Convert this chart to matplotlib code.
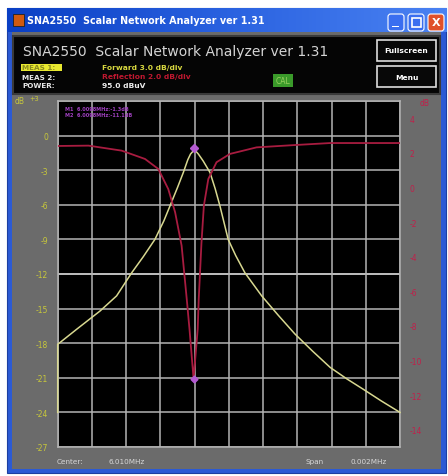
import matplotlib
matplotlib.use("Agg")
import matplotlib.pyplot as plt
from matplotlib.patches import Rectangle, FancyBboxPatch
import numpy as np

# ---------------- data ----------------
center_mhz = 6.010
span_mhz = 0.002
# forward (transmission) trace, frequency offset in divisions -> dB (left axis, 3 dB/div)
fwd_div = [0.0, 0.0, 0.55, 1.24, 1.72, 2.16, 2.50, 2.84, 3.10, 3.28, 3.50, 3.67, 3.80, 3.88,
           3.97, 4.05, 4.11, 4.25, 4.45, 4.60, 4.74, 4.98, 5.20, 5.47, 5.96, 6.45, 6.93,
           7.45, 7.96, 8.45, 8.93, 9.45, 10.0]
fwd_db = [-24.0, -18.1, -16.8, -15.2, -13.9, -11.9, -10.5, -9.0, -7.4, -6.1, -4.5, -3.2,
          -2.1, -1.6, -1.3, -1.4, -1.6, -2.2, -3.2, -4.6, -6.1, -9.0, -10.4, -11.9, -13.9,
          -15.6, -17.2, -18.7, -20.1, -21.1, -22.0, -23.0, -24.0]
# reflection trace (right axis, 2 dB/div)
ref_div = [0.0, 0.90, 1.87, 2.55, 2.94, 3.23, 3.43, 3.62, 3.77, 3.85, 3.97, 4.09, 4.12, 4.20,
           4.27, 4.40, 4.64, 5.03, 5.81, 6.98, 7.96, 10.0]
ref_db = [2.40, 2.42, 2.13, 1.65, 1.07, -0.09, -1.43, -3.36, -6.45, -8.18, -11.07, -8.18,
          -6.45, -3.2, -1.05, 0.49, 1.46, 1.94, 2.32, 2.46, 2.57, 2.57]
left_ticks = [0, -3, -6, -9, -12, -15, -18, -21, -24, -27]
left_labels = ["0", "-3", "-6", "-9", "-12", "-15", "-18", "-21", "-24", "-27"]
right_ticks = [4, 2, 0, -2, -4, -6, -8, -10, -12, -14]
right_labels = ["4", "2", "0", "-2", "-4", "-6", "-8", "-10", "-12", "-14"]
marker_div = 3.97
marker_fwd_db = -1.05
marker_ref_db = -11.07

W, H = 448, 477
fig = plt.figure(figsize=(W / 100, H / 100), dpi=100)
fig.patch.set_facecolor("white")

def rect(x0, y0, x1, y1, z=-5, **kw):
    r = Rectangle((x0 / W, 1 - y1 / H), (x1 - x0) / W, (y1 - y0) / H,
                  transform=fig.transFigure, zorder=z, **kw)
    fig.add_artist(r)
    return r

def txt(x, y, s, **kw):
    return fig.text(x / W, 1 - y / H, s, **kw)

# window frame
rect(7, 9, 446, 474, z=-10, facecolor="#2b5ad4", edgecolor="#1c3fa0", lw=0.8)
# title bar gradient
grad = np.linspace(0, 1, 256).reshape(1, -1)
axg = fig.add_axes([7 / W, 1 - 33 / H, 439 / W, 24 / H], zorder=-3)
axg.imshow(np.vstack([grad] * 2), aspect="auto", cmap=matplotlib.colors.LinearSegmentedColormap.from_list(
    "tb", ["#0a3fc4", "#2a62e0", "#4a82f2"]), extent=[0, 1, 0, 1])
axg.axis("off")
# icon
rect(13, 15, 24, 27, z=2, facecolor="#d05a10", edgecolor="#202020", lw=0.6)
txt(27, 21.5, "SNA2550  Scalar Network Analyzer ver 1.31", color="white", fontsize=6.9,
    fontweight="bold", va="center", ha="left")
# title buttons
for x0, col in [(388, "#3a6ef0"), (408, "#3a6ef0"), (428, "#e0502a")]:
    fig.add_artist(FancyBboxPatch((x0 / W, 1 - 32 / H), 16 / W, 17 / H,
                                  boxstyle="round,pad=0,rounding_size=0.006",
                                  transform=fig.transFigure, facecolor=col,
                                  edgecolor="white", lw=0.8, zorder=2))
rect(392, 26.5, 399, 28, z=3, facecolor="white", lw=0)
rect(411.5, 18.5, 420.5, 27.5, z=3, facecolor="none", edgecolor="white", lw=1.2)
txt(436, 23.5, "X", color="white", fontsize=8, fontweight="bold", ha="center", va="center",
    zorder=4)

# body
rect(12, 33, 441, 470, z=-9, facecolor="#6b6b6b", lw=0)
# header panel
rect(13, 37, 440, 95, z=-8, facecolor="#050505", edgecolor="#3a3a3a", lw=1.5)
txt(23, 52, "SNA2550  Scalar Network Analyzer ver 1.31", color="#d4d4d4", fontsize=10,
    va="center", ha="left")
rect(21, 64.5, 62, 72, z=-7, facecolor="#e8e830", lw=0)
txt(22, 68.3, "MEAS 1:", color="#8a8a20", fontsize=5.2, fontweight="bold", va="center")
txt(22, 77.5, "MEAS 2:", color="#e8e8e8", fontsize=5.2, fontweight="bold", va="center")
txt(22, 86.5, "POWER:", color="#e8e8e8", fontsize=5.2, fontweight="bold", va="center")
txt(102, 68.3, "Forward 3.0 dB/div", color="#d8d840", fontsize=5.4, fontweight="bold", va="center")
txt(102, 77.5, "Reflection 2.0 dB/div", color="#c01830", fontsize=5.4, fontweight="bold", va="center")
txt(102, 86.5, "95.0 dBuV", color="#eeeeee", fontsize=5.4, fontweight="bold", va="center")
rect(273, 75, 293, 88, z=-7, facecolor="#3a9a2a", lw=0)
txt(283, 81.5, "CAL", color="#9ad060", fontsize=5.5, ha="center", va="center")
for (y0, y1, s) in [(41, 62, "Fullscreen"), (67, 88, "Menu")]:
    rect(377, y0, 436, y1, z=-7, facecolor="#080808", edgecolor="#dddddd", lw=1.2)
    txt(406.5, (y0 + y1) / 2, s, color="white", fontsize=5.4, fontweight="bold",
        ha="center", va="center")

# ---------------- plot ----------------
x0p, x1p, y0p, y1p = 57.7, 400, 102, 448
ax = fig.add_axes([x0p / W, 1 - y1p / H, (x1p - x0p) / W, (y1p - y0p) / H])
ax.set_facecolor("black")
f0 = center_mhz - span_mhz / 2
div = span_mhz / 10
fwd_f = [f0 + d * div for d in fwd_div]
ref_f = [f0 + d * div for d in ref_div]
ax.set_xlim(f0, f0 + span_mhz)
ax.set_ylim(-27, 3)
ax.set_xticks([f0 + i * div for i in range(11)])
ax.set_xticklabels([])
ax.set_yticks(left_ticks + [3])
ax.set_yticklabels(left_labels + [""], color="#c8c83a", fontsize=5.5)
ax.tick_params(axis="both", length=0)
ax.tick_params(axis="y", pad=7)
ax.grid(True, color="#b4b4b4", lw=1.1)
ax.axhline(-12, color="#f4f4f4", lw=1.2, zorder=1.5)
for s in ax.spines.values():
    s.set_color("#b4b4b4")
    s.set_linewidth(1.1)

ax.plot(fwd_f, fwd_db, color="#d8d890", lw=1.1, zorder=4, clip_on=False)

axr = ax.twinx()
axr.set_ylim(-15, 5)
axr.set_yticks(right_ticks)
axr.set_yticklabels(right_labels, color="#c0204a", fontsize=5.5)
axr.tick_params(axis="y", length=0, pad=7)
for s in axr.spines.values():
    s.set_visible(False)
axr.plot(ref_f, ref_db, color="#a81c40", lw=1.3, zorder=3)
# markers
mf = f0 + marker_div * div
ax.plot([mf], [marker_fwd_db], marker="D", ms=4, color="#b45ad2", zorder=6)
axr.plot([mf], [marker_ref_db], marker="D", ms=3.5, color="#b45ad2", zorder=6)
ax.text(0.02, 0.985, "M1  6.0098MHz:-1.3dB", transform=ax.transAxes, color="#a040c0",
        fontsize=3.6, va="top", fontweight="bold")
ax.text(0.02, 0.968, "M2  6.0098MHz:-11.1dB", transform=ax.transAxes, color="#a040c0",
        fontsize=3.6, va="top", fontweight="bold")

# axis unit labels
txt(15, 101, "dB", color="#c8c83a", fontsize=5.5, va="center")
txt(29, 99, "+3", color="#c8c83a", fontsize=4.8, va="center")
txt(420, 103, "dB", color="#c0204a", fontsize=5.5, va="center")

# bottom labels
txt(57, 462, "Center:", color="#d8d8d8", fontsize=5.2, va="center")
txt(108, 462, "6.010MHz", color="#d8d8d8", fontsize=5.2, va="center")
txt(305, 462, "Span", color="#d8d8d8", fontsize=5.2, va="center")
txt(350, 462, "0.002MHz", color="#d8d8d8", fontsize=5.2, va="center")

fig.savefig("out.png", dpi=100)
